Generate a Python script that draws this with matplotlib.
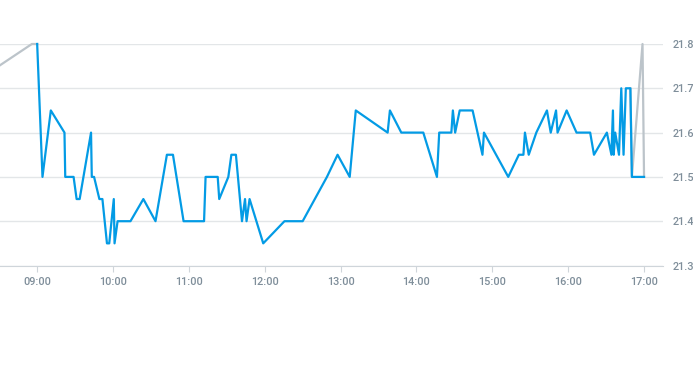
import matplotlib
matplotlib.use('Agg')
import matplotlib.pyplot as plt
import matplotlib.ticker as ticker

# hours (decimal) and temperature readings
heures = [9.00, 9.07, 9.18, 9.36, 9.37, 9.48, 9.52, 9.56, 9.71, 9.72, 9.75, 9.82, 9.86,
          9.92, 9.95, 10.01, 10.02, 10.06, 10.23, 10.40, 10.56, 10.71, 10.79, 10.93,
          11.20, 11.22, 11.38, 11.40, 11.52, 11.56, 11.62, 11.62, 11.70, 11.74, 11.76,
          11.80, 11.98, 12.26, 12.50, 12.82, 12.96, 13.12, 13.20, 13.62, 13.65, 13.80,
          14.09, 14.27, 14.30, 14.46, 14.48, 14.51, 14.57, 14.74, 14.87, 14.89, 15.21,
          15.35, 15.41, 15.43, 15.48, 15.58, 15.72, 15.77, 15.84, 15.86, 15.98, 16.11,
          16.29, 16.34, 16.51, 16.57, 16.59, 16.60, 16.62, 16.67, 16.70, 16.73, 16.76,
          16.82, 16.84, 17.00]
temps = [21.8, 21.5, 21.65, 21.6, 21.5, 21.5, 21.45, 21.45, 21.6, 21.5, 21.5, 21.45, 21.45,
         21.35, 21.35, 21.45, 21.35, 21.4, 21.4, 21.45, 21.4, 21.55, 21.55, 21.4,
         21.4, 21.5, 21.5, 21.45, 21.5, 21.55, 21.55, 21.55, 21.4, 21.45, 21.4,
         21.45, 21.35, 21.4, 21.4, 21.5, 21.55, 21.5, 21.65, 21.6, 21.65, 21.6,
         21.6, 21.5, 21.6, 21.6, 21.65, 21.6, 21.65, 21.65, 21.55, 21.6, 21.5,
         21.55, 21.55, 21.6, 21.55, 21.6, 21.65, 21.6, 21.65, 21.6, 21.65, 21.6,
         21.6, 21.55, 21.6, 21.55, 21.65, 21.55, 21.6, 21.55, 21.7, 21.55, 21.7,
         21.7, 21.5, 21.5]

# grey segments (before first / after last reading)
gris_debut_h = [8.51, 8.93, 9.00]
gris_debut_t = [21.752, 21.8, 21.8]
gris_fin_h = [16.82, 16.84, 16.98, 17.00]
gris_fin_t = [21.7, 21.5, 21.8, 21.5]

ticks_y = [21.3, 21.4, 21.5, 21.6, 21.7, 21.8]
ticks_x = [9, 10, 11, 12, 13, 14, 15, 16, 17]
labels_x = ["09:00", "10:00", "11:00", "12:00", "13:00", "14:00", "15:00", "16:00", "17:00"]

plt.rcParams['font.family'] = ['Roboto', 'DejaVu Sans']
plt.rcParams['font.weight'] = 'medium'
fig = plt.figure(figsize=(6.93, 3.65), dpi=100)
ax = fig.add_axes([0, 1 - 265.5 / 365, 663 / 693, 221.5 / 365])

gris = '#bcc4ca'
ax.plot(gris_debut_h, gris_debut_t, color=gris, linewidth=1.6, clip_on=False, zorder=2)
ax.plot(gris_fin_h, gris_fin_t, color=gris, linewidth=1.6, clip_on=False, zorder=2)
ax.plot(heures, temps, color='#039be5', linewidth=1.6, clip_on=False, zorder=3)

ax.set_xlim(8.51, 17.25)
ax.set_ylim(21.3, 21.8)
ax.set_yticks(ticks_y)
ax.yaxis.set_major_formatter(ticker.FormatStrFormatter('%.1f'))
ax.set_xticks(ticks_x)
ax.set_xticklabels(labels_x)
ax.yaxis.tick_right()
ax.grid(axis='y', color='#e3e6e8', linewidth=1)
ax.set_axisbelow(True)

for s in ['top', 'left', 'right']:
    ax.spines[s].set_visible(False)
ax.spines['bottom'].set_color('#cfd5da')
ax.tick_params(axis='x', colors='#7f8e9a', labelsize=7.8, length=4, pad=4, color='#cfd5da')
ax.tick_params(axis='y', colors='#7f8e9a', labelsize=7.8, length=0, pad=7)

plt.savefig("out.png", dpi=100)
